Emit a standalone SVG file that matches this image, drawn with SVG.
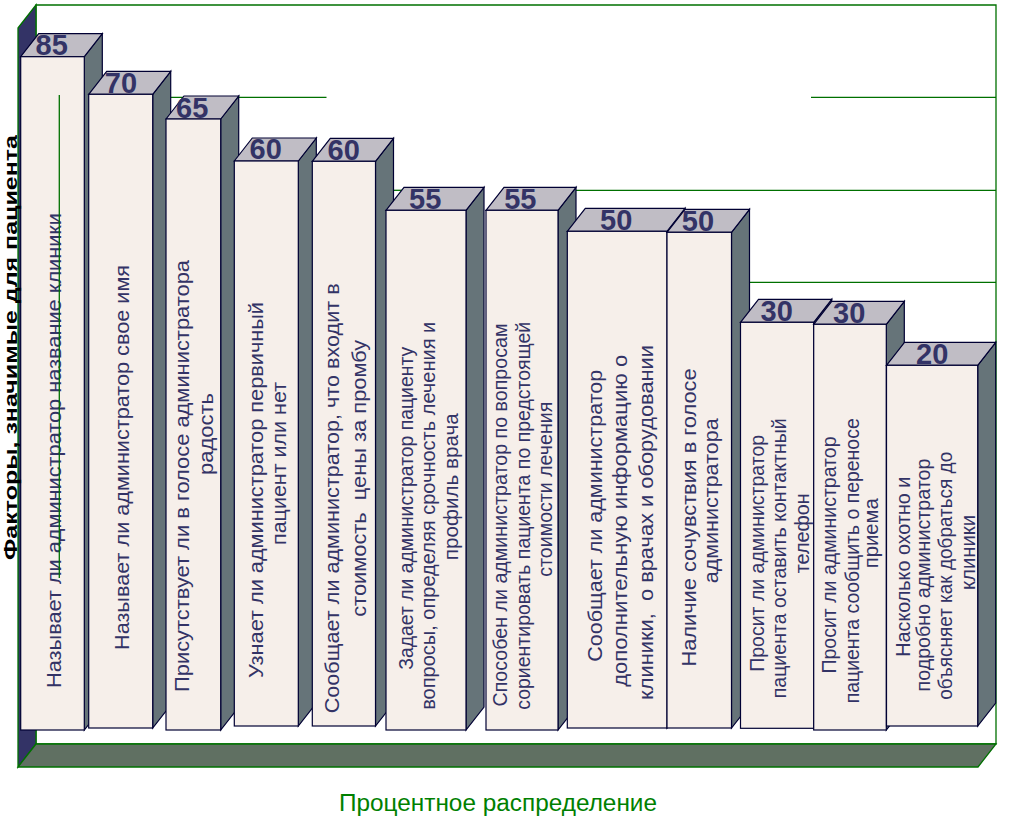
<svg xmlns="http://www.w3.org/2000/svg" width="1027" height="824" viewBox="0 0 1027 824">
<style>
.front{fill:#f6efea;stroke:#000033;stroke-width:1.2}
.top{fill:#c0bdc5;stroke:#000033;stroke-width:1.2}
.side{fill:#667479;stroke:#000033;stroke-width:1.2}
.num{font-family:"Liberation Sans",Arial,sans-serif;font-weight:bold;font-size:29px;fill:#333366}
.lbl{font-family:"Liberation Sans",Arial,sans-serif;font-size:21px;fill:#333366;text-anchor:middle}
.grid{stroke:#007000;stroke-width:1.3;fill:none}
</style>
<rect width="1027" height="824" fill="#ffffff"/>
<g id="chart-frame">
<polygon points="36,5 996,5 996,744 36,744" fill="#ffffff" stroke="#007000" stroke-width="1.3"/>
<line class="grid" x1="170" y1="97.3" x2="326.5" y2="97.3"/>
<line class="grid" x1="811" y1="97.3" x2="996" y2="97.3"/>
<line class="grid" x1="392.7" y1="190.3" x2="404" y2="190.3"/>
<line class="grid" x1="576" y1="190.3" x2="996" y2="190.3"/>
<line class="grid" x1="748.8" y1="282.3" x2="996" y2="282.3"/>
<polygon points="18,28 36,5 36,744 18,767" fill="#333366" stroke="#007000" stroke-width="1.3"/>
<polygon points="36,744 996,744 978,767 18,767" fill="#607062" stroke="#007000" stroke-width="1.3"/>
</g>
<g id="bar-1">
<polygon class="side" points="84.3,56.7 102.3,33.7 102.3,707 84.3,730"/>
<polygon class="top" points="20.7,56.7 38.7,33.7 102.3,33.7 84.3,56.7"/>
<rect class="front" x="20.7" y="56.7" width="63.6" height="673.3"/>
<text class="num" x="35.5" y="54.5">85</text>
<text class="lbl" transform="translate(60.5,450.5) rotate(-90)" textLength="475" lengthAdjust="spacingAndGlyphs">Называет ли администратор название клиники</text>
</g>
<g id="bar-2">
<polygon class="side" points="152.7,94.3 170.7,71.3 170.7,705 152.7,728"/>
<polygon class="top" points="88.7,94.3 106.7,71.3 170.7,71.3 152.7,94.3"/>
<rect class="front" x="88.7" y="94.3" width="64" height="633.7"/>
<text class="num" x="104.8" y="92.5">70</text>
<text class="lbl" transform="translate(128.5,457.5) rotate(-90)" textLength="385" lengthAdjust="spacingAndGlyphs">Называет ли администратор свое имя</text>
</g>
<g id="bar-3">
<polygon class="side" points="220.7,119 238.7,96 238.7,707 220.7,730"/>
<polygon class="top" points="166,119 184,96 238.7,96 220.7,119"/>
<rect class="front" x="166" y="119" width="54.7" height="611"/>
<text class="num" x="176.1" y="117.5">65</text>
<text class="lbl" transform="translate(189,476) rotate(-90)" textLength="432" lengthAdjust="spacingAndGlyphs">Присутствует ли в голосе администратора</text>
<text class="lbl" transform="translate(213.3,434) rotate(-90)" textLength="82" lengthAdjust="spacingAndGlyphs">радость</text>
</g>
<g id="bar-4">
<polygon class="side" points="298.3,161 316.3,138 316.3,703 298.3,726"/>
<polygon class="top" points="234.3,161 252.3,138 316.3,138 298.3,161"/>
<rect class="front" x="234.3" y="161" width="64" height="565"/>
<text class="num" x="249.5" y="159.3">60</text>
<text class="lbl" transform="translate(262.5,490) rotate(-90)" textLength="376" lengthAdjust="spacingAndGlyphs">Узнает ли администратор первичный</text>
<text class="lbl" transform="translate(286,463.5) rotate(-90)" textLength="163" lengthAdjust="spacingAndGlyphs">пациент или нет</text>
</g>
<g id="bar-5">
<polygon class="side" points="375.5,161.3 393.5,138.3 393.5,703 375.5,726"/>
<polygon class="top" points="312.3,161.3 330.3,138.3 393.5,138.3 375.5,161.3"/>
<rect class="front" x="312.3" y="161.3" width="63.2" height="564.7"/>
<text class="num" x="327.5" y="159.5">60</text>
<text class="lbl" transform="translate(339,498.3) rotate(-90)" textLength="430" lengthAdjust="spacingAndGlyphs">Сообщает ли администратор, что входит в</text>
<text class="lbl" xml:space="preserve" transform="translate(366,478.3) rotate(-90)" textLength="277" lengthAdjust="spacingAndGlyphs">стоимость  цены за промбу</text>
</g>
<g id="bar-6">
<polygon class="side" points="466,210.3 484,187.3 484,707 466,730"/>
<polygon class="top" points="386,210.3 404,187.3 484,187.3 466,210.3"/>
<rect class="front" x="386" y="210.3" width="80" height="519.7"/>
<text class="num" x="409.1" y="208.5">55</text>
<text class="lbl" transform="translate(413,508.3) rotate(-90)" textLength="323" lengthAdjust="spacingAndGlyphs">Задает ли администратор пациенту</text>
<text class="lbl" transform="translate(435,515.8) rotate(-90)" textLength="388" lengthAdjust="spacingAndGlyphs">вопросы, определяя срочность лечения и</text>
<text class="lbl" transform="translate(457.8,486.7) rotate(-90)" textLength="147" lengthAdjust="spacingAndGlyphs">профиль врача</text>
</g>
<g id="bar-7">
<polygon class="side" points="558,210.3 576,187.3 576,707 558,730"/>
<polygon class="top" points="486,210.3 504,187.3 576,187.3 558,210.3"/>
<rect class="front" x="486" y="210.3" width="72" height="519.7"/>
<text class="num" x="504.2" y="208.5">55</text>
<text class="lbl" transform="translate(507,515) rotate(-90)" textLength="383" lengthAdjust="spacingAndGlyphs">Способен ли администратор по вопросам</text>
<text class="lbl" transform="translate(530,515.8) rotate(-90)" textLength="388" lengthAdjust="spacingAndGlyphs">сориентировать пациента по предстоящей</text>
<text class="lbl" transform="translate(552,489.2) rotate(-90)" textLength="175" lengthAdjust="spacingAndGlyphs">стоимости лечения</text>
</g>
<g id="bar-8">
<polygon class="side" points="667,231.3 685,208.3 685,705 667,728"/>
<polygon class="top" points="567.3,231.3 585.3,208.3 685,208.3 667,231.3"/>
<rect class="front" x="567.3" y="231.3" width="99.7" height="496.7"/>
<text class="num" x="600.1" y="229.5">50</text>
<text class="lbl" transform="translate(602,515.8) rotate(-90)" textLength="292" lengthAdjust="spacingAndGlyphs">Сообщает ли администратор</text>
<text class="lbl" transform="translate(627,520.8) rotate(-90)" textLength="332" lengthAdjust="spacingAndGlyphs">дополнительную информацию о</text>
<text class="lbl" xml:space="preserve" transform="translate(652.8,522.5) rotate(-90)" textLength="355" lengthAdjust="spacingAndGlyphs">клиники,  о врачах и оборудовании</text>
</g>
<g id="bar-9">
<polygon class="side" points="731.5,232.3 749.5,209.3 749.5,705 731.5,728"/>
<polygon class="top" points="667,232.3 685,209.3 749.5,209.3 731.5,232.3"/>
<rect class="front" x="667" y="232.3" width="64.5" height="495.7"/>
<text class="num" x="681.8" y="230.5">50</text>
<text class="lbl" transform="translate(695.5,517.5) rotate(-90)" textLength="298" lengthAdjust="spacingAndGlyphs">Наличие сочувствия в голосе</text>
<text class="lbl" transform="translate(718.3,500.8) rotate(-90)" textLength="165" lengthAdjust="spacingAndGlyphs">администратора</text>
</g>
<g id="bar-10">
<polygon class="side" points="813.7,322.3 831.7,299.3 831.7,705.3 813.7,728.3"/>
<polygon class="top" points="740.5,322.3 758.5,299.3 831.7,299.3 813.7,322.3"/>
<rect class="front" x="740.5" y="322.3" width="73.2" height="406"/>
<text class="num" x="760.5" y="320.5">30</text>
<text class="lbl" transform="translate(763.6,553.3) rotate(-90)" textLength="237" lengthAdjust="spacingAndGlyphs">Просит ли администратор</text>
<text class="lbl" transform="translate(785.5,558.3) rotate(-90)" textLength="280" lengthAdjust="spacingAndGlyphs">пациента оставить контактный</text>
<text class="lbl" transform="translate(808.6,533.3) rotate(-90)" textLength="80" lengthAdjust="spacingAndGlyphs">телефон</text>
</g>
<g id="bar-11">
<polygon class="side" points="886.3,324.3 904.3,301.3 904.3,707 886.3,730"/>
<polygon class="top" points="813.7,324.3 831.7,301.3 904.3,301.3 886.3,324.3"/>
<rect class="front" x="813.7" y="324.3" width="72.6" height="405.7"/>
<text class="num" x="833.1" y="322.5">30</text>
<text class="lbl" transform="translate(836,555) rotate(-90)" textLength="237" lengthAdjust="spacingAndGlyphs">Просит ли администратор</text>
<text class="lbl" transform="translate(858.6,560.8) rotate(-90)" textLength="285" lengthAdjust="spacingAndGlyphs">пациента сообщить о переносе</text>
<text class="lbl" transform="translate(878.3,533.3) rotate(-90)" textLength="70" lengthAdjust="spacingAndGlyphs">приема</text>
</g>
<g id="bar-12">
<polygon class="side" points="977.7,365.3 995.7,342.3 995.7,703 977.7,726"/>
<polygon class="top" points="886.5,365.3 904.5,342.3 995.7,342.3 977.7,365.3"/>
<rect class="front" x="886.5" y="365.3" width="91.2" height="360.7"/>
<text class="num" x="916.1" y="363.5">20</text>
<text class="lbl" transform="translate(909.5,566.7) rotate(-90)" textLength="180" lengthAdjust="spacingAndGlyphs">Насколько охотно и</text>
<text class="lbl" transform="translate(930.3,575) rotate(-90)" textLength="233" lengthAdjust="spacingAndGlyphs">подробно администратор</text>
<text class="lbl" transform="translate(952,575.8) rotate(-90)" textLength="248" lengthAdjust="spacingAndGlyphs">объясняет как добраться до</text>
<text class="lbl" transform="translate(975.4,552.5) rotate(-90)" textLength="75" lengthAdjust="spacingAndGlyphs">клиники</text>
</g>
<g id="overlay">
<line class="grid" x1="59.3" y1="95" x2="59.3" y2="578" stroke-width="1"/>
</g>
<g id="axis-titles">
<text transform="translate(16.8,347.5) rotate(-90)" text-anchor="middle" font-family="'Liberation Sans',Arial,sans-serif" font-weight="bold" font-size="18.5" fill="#000000" textLength="425" lengthAdjust="spacingAndGlyphs">Факторы, значимые для пациента</text>
<text x="339" y="811" font-family="'Liberation Sans',Arial,sans-serif" font-size="23" fill="#008000" textLength="318" lengthAdjust="spacingAndGlyphs">Процентное распределение</text>
</g>
</svg>
